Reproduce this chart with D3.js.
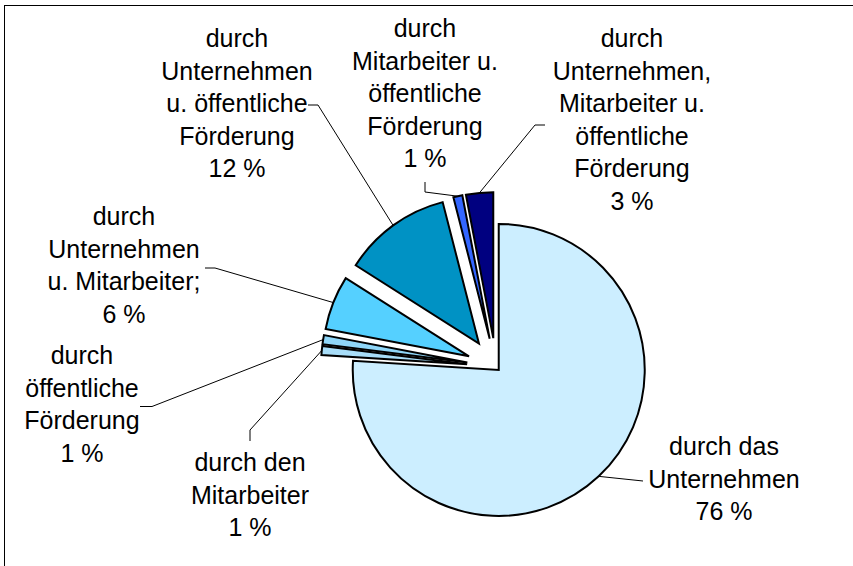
<!DOCTYPE html>
<html>
<head>
<meta charset="utf-8">
<script src="https://cdnjs.cloudflare.com/ajax/libs/d3/7.8.5/d3.min.js"></script>
<style>
  body { margin: 0; background: #fff; }
  .slice { stroke: #000; stroke-width: 2; stroke-linejoin: miter; }
  .leader { fill: none; stroke: #000; stroke-width: 1; }
  .lbl { font-family: "Liberation Sans", Arial, sans-serif; font-size: 25px; fill: #000; }
</style>
</head>
<body>
<div class="container"></div>
<script>
// data
const categories = [
  ["durch das", "Unternehmen"],
  ["durch den", "Mitarbeiter"],
  ["durch", "öffentliche", "Förderung"],
  ["durch", "Unternehmen", "u. Mitarbeiter;"],
  ["durch", "Unternehmen", "u. öffentliche", "Förderung"],
  ["durch", "Mitarbeiter u.", "öffentliche", "Förderung"],
  ["durch", "Unternehmen,", "Mitarbeiter u.", "öffentliche", "Förderung"]
];
const values = [76, 1, 1, 6, 12, 1, 3];
const colors = ["#CCEEFF", "#A8DDF8", "#8FD6F8", "#55D0FF", "#0092C4", "#3366FF", "#000080"];

// layout
const W = 853, H = 566;
const CX = 496, CY = 367;
const RADIUS = 146;
const LINE_H = 32.5;
const explode = [4, 29, 29, 29, 29, 29, 29];
const labelPos = [[724, 455], [250, 471], [82, 364], [124, 225], [237, 47], [425, 37], [632, 47]];
const leaderPts = [
  [[643, 481]],
  [[250, 441], [250, 430]],
  [[140, 406.5], [152, 406.5]],
  [[205, 268], [215, 268]],
  [[308, 105], [318, 105]],
  [[425, 182], [425, 192]],
  [[545, 125], [535, 125]]
];

var svg = d3.select(".container").append("svg")
    .attr("width", W)
    .attr("height", H);

// chart frame
svg.append("rect")
    .attr("x", 4.5).attr("y", 5.5)
    .attr("width", 900).attr("height", 600)
    .attr("fill", "none").attr("stroke", "#000").attr("stroke-width", 1);

var pie = d3.pie().sort(null).startAngle(0).endAngle(2 * Math.PI);
var arc = d3.arc().innerRadius(0).outerRadius(RADIUS);
var arcs = pie(values);

var g = svg.append("g").attr("transform", "translate(" + CX + "," + CY + ")");

arcs.forEach(function(d, i) {
    var mid = (d.startAngle + d.endAngle) / 2;
    var dx = Math.sin(mid) * explode[i];
    var dy = -Math.cos(mid) * explode[i];
    g.append("path")
        .attr("d", arc(d))
        .attr("transform", "translate(" + dx + "," + dy + ")")
        .attr("fill", colors[i])
        .classed("slice", true);

    // leader from label to slice edge
    var ex = CX + dx + Math.sin(mid) * RADIUS;
    var ey = CY + dy - Math.cos(mid) * RADIUS;
    var pts = leaderPts[i].concat([[ex, ey]]);
    svg.append("path")
        .attr("d", d3.line()(pts))
        .classed("leader", true);

    var lines = categories[i].concat([values[i] + " %"]);
    var t = svg.append("text")
        .classed("lbl", true)
        .attr("text-anchor", "middle");
    lines.forEach(function(s, k) {
        t.append("tspan")
            .attr("x", labelPos[i][0])
            .attr("y", labelPos[i][1] + k * LINE_H)
            .text(s);
    });
});
</script>
</body>
</html>
